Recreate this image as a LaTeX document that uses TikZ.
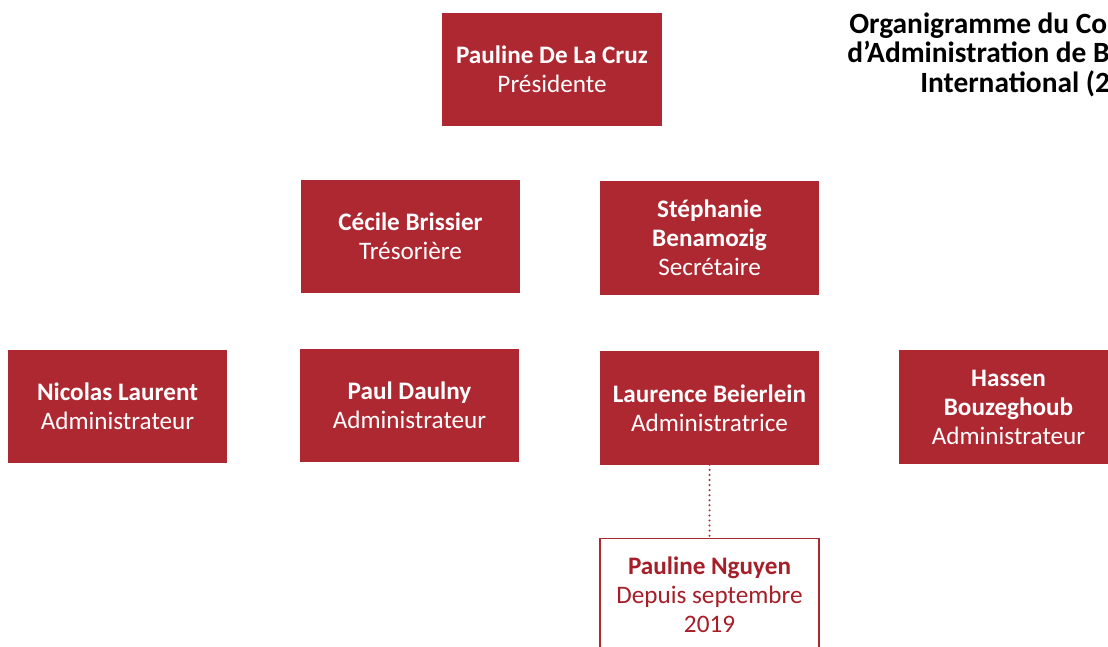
\documentclass[tikz,border=0pt]{standalone}
\usepackage{fontspec}
\setmainfont{Carlito}
\definecolor{cared}{HTML}{AE2832}
\definecolor{catext}{HTML}{A61E28}
\newcommand{\boxw}{5.475cm}
\newcommand{\boxh}{2.825cm}

\begin{document}
\begin{tikzpicture}[x=0.025cm,y=-0.025cm,
    member/.style={fill=cared, text=white, align=center, minimum width=\boxw, minimum height=\boxh, inner sep=2pt, font=\fontsize{17.9}{20.6}\selectfont},
    guest/.style={draw=cared, line width=1.4pt, fill=white, text=catext, align=center, minimum width=\boxw, minimum height=\boxh, inner sep=2pt, font=\fontsize{17.9}{20.6}\selectfont},
    heading/.style={anchor=base west, inner sep=0pt, font=\fontsize{20.9}{20.6}\selectfont\bfseries}]
        \useasboundingbox (0,0) rectangle (1108,646);
        \clip (0,0) rectangle (1108,646);

        % bureau
        \node (president) at (552,69.5) [member] {\textbf{Pauline De La Cruz}\\Présidente};
        \node (tresoriere) at (410.5,236.5) [member] {\textbf{Cécile Brissier}\\Trésorière};
        \node (secretaire) at (709.5,238) [member] {\textbf{Stéphanie}\\\textbf{Benamozig}\\Secrétaire};

        % administrateurs
        \node (nicolas) at (117.5,406.5) [member] {\textbf{Nicolas Laurent}\\Administrateur};
        \node (paul) at (409.5,405.5) [member] {\textbf{Paul Daulny}\\Administrateur};
        \node (laurence) at (709.5,408) [member] {\textbf{Laurence Beierlein}\\Administratrice};
        \node (hassen) at (1008.5,407) [member] {\textbf{Hassen}\\\textbf{Bouzeghoub}\\Administrateur};

        \node (nguyen) at (709.5,595) [guest] {\textbf{Pauline Nguyen}\\Depuis septembre\\2019};
        \draw[cared, line width=1.6pt, line cap=round, dash pattern=on 0pt off 3.6pt] (laurence) -- (nguyen);

        % titre
        \node (titre1) at (849,33) [heading] {Organigramme du Co};
        \node (titre2) at (847,62) [heading] {d’Administration de B};
        \node (titre3) at (920,92) [heading] {International (2};
\end{tikzpicture}
\end{document}
